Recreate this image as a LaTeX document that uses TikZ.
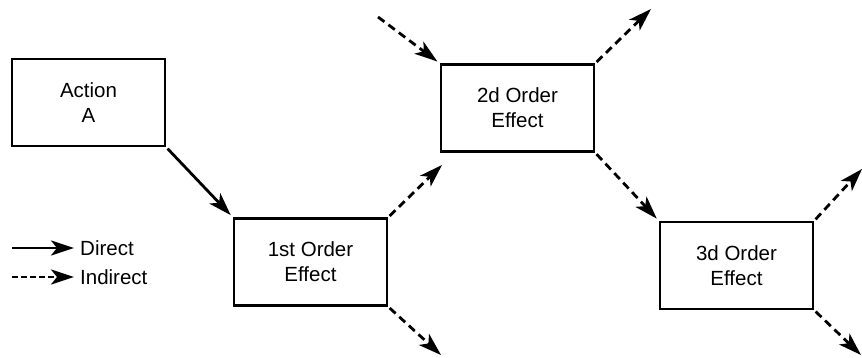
\documentclass[tikz,border=0pt]{standalone}
\usepackage{fontspec}
\setmainfont{Liberation Sans}
\usetikzlibrary{arrows.meta}
\begin{document}
\begin{tikzpicture}[x=1pt,y=-1pt,
  box/.style={draw,line width=2.4pt,minimum width=153pt,minimum height=87pt,align=center,inner sep=0pt,
    font=\fontsize{20.5}{25}\selectfont},
  direct/.style={line width=2.8pt,-{Stealth[length=23pt,width=15pt,inset=6pt]}},
  indirect/.style={direct,dash pattern=on 8pt off 5pt},
  lbl/.style={anchor=west,inner sep=0pt,font=\fontsize{20.5}{25}\selectfont}]
\useasboundingbox (0,0) rectangle (862,358);
\node[box] (A) at (88.5,102.5) {Action\\A};
\node[box] (B1) at (310.5,262) {1st Order\\Effect};
\node[box] (B2) at (517.5,108) {2d Order\\Effect};
\node[box] (B3) at (736.5,265.5) {3d Order\\Effect};
\coordinate (o1a) at (442,165);
\coordinate (o1b) at (441,355);
\coordinate (i2) at (378,17);
\coordinate (o2a) at (651,9);
\coordinate (o3a) at (862,169);
\coordinate (o3b) at (861,355);
\draw[direct,shorten <=2pt,shorten >=3pt] (A.south east) -- (B1.north west);
\draw[indirect,shorten <=2pt] (B1.north east) -- (o1a);
\draw[indirect,shorten <=2pt] (B1.south east) -- (o1b);
\draw[indirect,shorten >=3pt] (i2) -- (B2.north west);
\draw[indirect,shorten <=2pt] (B2.north east) -- (o2a);
\draw[indirect,shorten <=2pt,shorten >=3pt] (B2.south east) -- (B3.north west);
\draw[indirect,shorten <=2pt] (B3.north east) -- (o3a);
\draw[indirect,shorten <=2pt] (B3.south east) -- (o3b);
\coordinate (ld1) at (12,248);
\coordinate (ld2) at (74,248);
\coordinate (li1) at (12,277);
\coordinate (li2) at (74,277);
\draw[direct] (ld1) -- (ld2);
\draw[indirect,dash pattern=on 6pt off 3pt] (li1) -- (li2);
\node[lbl] (tD) at (80,248) {Direct};
\node[lbl] (tI) at (80,277) {Indirect};
\end{tikzpicture}
\end{document}
